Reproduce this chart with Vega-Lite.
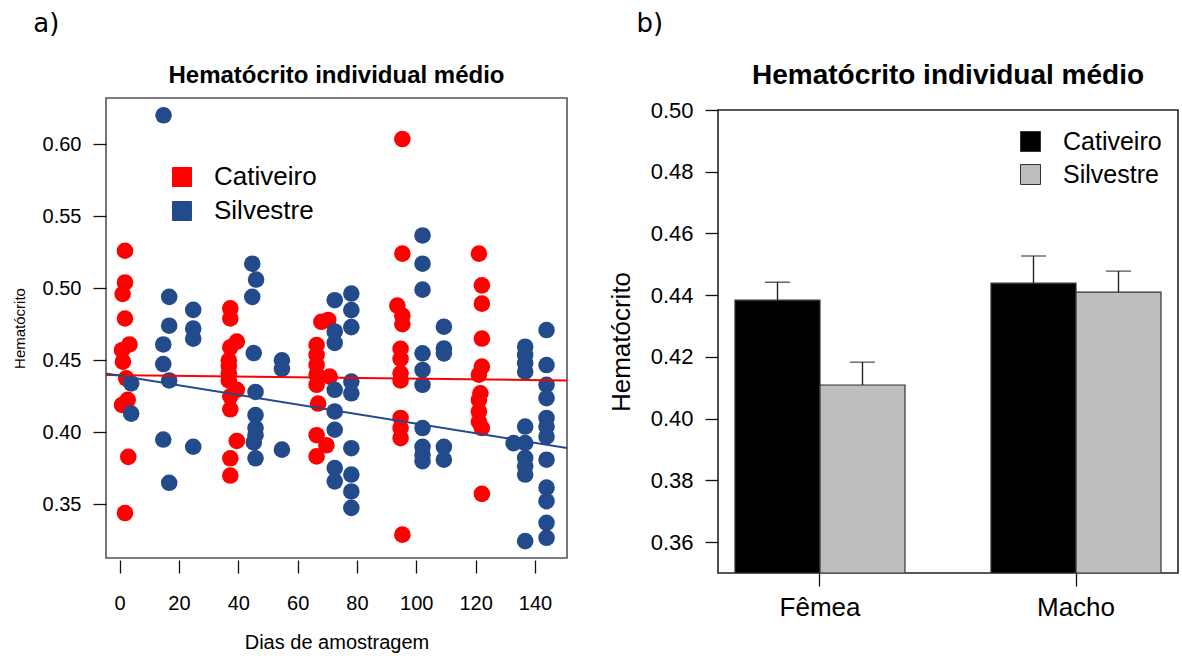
{
  "$schema": "https://vega.github.io/schema/vega-lite/v6.json",
  "background": "white",
  "padding": {"left": 11, "top": 11, "right": 0, "bottom": 0},
  "config": {
    "font": "Liberation Sans",
    "axis": {"grid": false, "labelColor": "#000", "titleColor": "#000", "tickColor": "#111", "tickWidth": 1.3, "domain": false, "titleFontWeight": "normal"},
    "legend": {"labelColor": "#000"},
    "title": {"color": "#000"}
  },
  "resolve": {"scale": {"color": "independent", "stroke": "independent"}, "legend": {"color": "independent"}},
  "datasets": {
    "vazio": [{"n": 0}],
    "amostras": [
      {"grupo": "Cativeiro", "dia": 1.8, "hct": 0.526},
      {"grupo": "Cativeiro", "dia": 1.8, "hct": 0.504},
      {"grupo": "Cativeiro", "dia": 1.0, "hct": 0.496},
      {"grupo": "Cativeiro", "dia": 1.8, "hct": 0.479},
      {"grupo": "Cativeiro", "dia": 3.3, "hct": 0.461},
      {"grupo": "Cativeiro", "dia": 0.8, "hct": 0.457},
      {"grupo": "Cativeiro", "dia": 1.1, "hct": 0.449},
      {"grupo": "Cativeiro", "dia": 2.2, "hct": 0.4375},
      {"grupo": "Cativeiro", "dia": 2.7, "hct": 0.4225},
      {"grupo": "Cativeiro", "dia": 0.8, "hct": 0.419},
      {"grupo": "Cativeiro", "dia": 2.9, "hct": 0.383},
      {"grupo": "Cativeiro", "dia": 1.8, "hct": 0.344},
      {"grupo": "Cativeiro", "dia": 37.3, "hct": 0.486},
      {"grupo": "Cativeiro", "dia": 37.3, "hct": 0.479},
      {"grupo": "Cativeiro", "dia": 39.5, "hct": 0.463},
      {"grupo": "Cativeiro", "dia": 37.3, "hct": 0.459},
      {"grupo": "Cativeiro", "dia": 36.8, "hct": 0.45},
      {"grupo": "Cativeiro", "dia": 36.8, "hct": 0.446},
      {"grupo": "Cativeiro", "dia": 36.8, "hct": 0.441},
      {"grupo": "Cativeiro", "dia": 36.8, "hct": 0.436},
      {"grupo": "Cativeiro", "dia": 39.5, "hct": 0.4295},
      {"grupo": "Cativeiro", "dia": 37.3, "hct": 0.425},
      {"grupo": "Cativeiro", "dia": 37.3, "hct": 0.416},
      {"grupo": "Cativeiro", "dia": 39.5, "hct": 0.394},
      {"grupo": "Cativeiro", "dia": 37.3, "hct": 0.382},
      {"grupo": "Cativeiro", "dia": 37.3, "hct": 0.37},
      {"grupo": "Cativeiro", "dia": 68.0, "hct": 0.4767},
      {"grupo": "Cativeiro", "dia": 70.3, "hct": 0.478},
      {"grupo": "Cativeiro", "dia": 66.4, "hct": 0.4606},
      {"grupo": "Cativeiro", "dia": 66.4, "hct": 0.4537},
      {"grupo": "Cativeiro", "dia": 66.4, "hct": 0.4468},
      {"grupo": "Cativeiro", "dia": 66.4, "hct": 0.44},
      {"grupo": "Cativeiro", "dia": 66.4, "hct": 0.433},
      {"grupo": "Cativeiro", "dia": 70.8, "hct": 0.4387},
      {"grupo": "Cativeiro", "dia": 66.9, "hct": 0.42},
      {"grupo": "Cativeiro", "dia": 66.4, "hct": 0.398},
      {"grupo": "Cativeiro", "dia": 69.7, "hct": 0.391},
      {"grupo": "Cativeiro", "dia": 66.4, "hct": 0.3833},
      {"grupo": "Cativeiro", "dia": 95.3, "hct": 0.6035},
      {"grupo": "Cativeiro", "dia": 95.3, "hct": 0.524},
      {"grupo": "Cativeiro", "dia": 93.6, "hct": 0.488},
      {"grupo": "Cativeiro", "dia": 95.3, "hct": 0.481},
      {"grupo": "Cativeiro", "dia": 95.3, "hct": 0.475},
      {"grupo": "Cativeiro", "dia": 94.7, "hct": 0.458},
      {"grupo": "Cativeiro", "dia": 94.7, "hct": 0.451},
      {"grupo": "Cativeiro", "dia": 94.7, "hct": 0.441},
      {"grupo": "Cativeiro", "dia": 94.7, "hct": 0.436},
      {"grupo": "Cativeiro", "dia": 94.7, "hct": 0.41},
      {"grupo": "Cativeiro", "dia": 94.7, "hct": 0.403},
      {"grupo": "Cativeiro", "dia": 94.7, "hct": 0.396},
      {"grupo": "Cativeiro", "dia": 95.3, "hct": 0.329},
      {"grupo": "Cativeiro", "dia": 121.1, "hct": 0.524},
      {"grupo": "Cativeiro", "dia": 122.1, "hct": 0.502},
      {"grupo": "Cativeiro", "dia": 122.1, "hct": 0.4893},
      {"grupo": "Cativeiro", "dia": 122.1, "hct": 0.4651},
      {"grupo": "Cativeiro", "dia": 122.1, "hct": 0.4456},
      {"grupo": "Cativeiro", "dia": 121.1, "hct": 0.44},
      {"grupo": "Cativeiro", "dia": 121.6, "hct": 0.4271},
      {"grupo": "Cativeiro", "dia": 121.1, "hct": 0.4225},
      {"grupo": "Cativeiro", "dia": 121.1, "hct": 0.4145},
      {"grupo": "Cativeiro", "dia": 121.1, "hct": 0.4075},
      {"grupo": "Cativeiro", "dia": 122.1, "hct": 0.403},
      {"grupo": "Cativeiro", "dia": 122.1, "hct": 0.3573},
      {"grupo": "Silvestre", "dia": 3.9, "hct": 0.434},
      {"grupo": "Silvestre", "dia": 3.9, "hct": 0.413},
      {"grupo": "Silvestre", "dia": 14.8, "hct": 0.62},
      {"grupo": "Silvestre", "dia": 14.7, "hct": 0.461},
      {"grupo": "Silvestre", "dia": 14.7, "hct": 0.4474},
      {"grupo": "Silvestre", "dia": 14.7, "hct": 0.395},
      {"grupo": "Silvestre", "dia": 16.7, "hct": 0.494},
      {"grupo": "Silvestre", "dia": 16.7, "hct": 0.474},
      {"grupo": "Silvestre", "dia": 16.7, "hct": 0.436},
      {"grupo": "Silvestre", "dia": 16.7, "hct": 0.365},
      {"grupo": "Silvestre", "dia": 24.8, "hct": 0.485},
      {"grupo": "Silvestre", "dia": 24.8, "hct": 0.472},
      {"grupo": "Silvestre", "dia": 24.8, "hct": 0.465},
      {"grupo": "Silvestre", "dia": 24.8, "hct": 0.39},
      {"grupo": "Silvestre", "dia": 44.7, "hct": 0.517},
      {"grupo": "Silvestre", "dia": 46.0, "hct": 0.506},
      {"grupo": "Silvestre", "dia": 44.7, "hct": 0.494},
      {"grupo": "Silvestre", "dia": 45.2, "hct": 0.455},
      {"grupo": "Silvestre", "dia": 45.8, "hct": 0.428},
      {"grupo": "Silvestre", "dia": 45.8, "hct": 0.412},
      {"grupo": "Silvestre", "dia": 45.8, "hct": 0.403},
      {"grupo": "Silvestre", "dia": 45.8, "hct": 0.398},
      {"grupo": "Silvestre", "dia": 45.2, "hct": 0.393},
      {"grupo": "Silvestre", "dia": 45.8, "hct": 0.382},
      {"grupo": "Silvestre", "dia": 54.7, "hct": 0.45},
      {"grupo": "Silvestre", "dia": 54.7, "hct": 0.444},
      {"grupo": "Silvestre", "dia": 54.7, "hct": 0.388},
      {"grupo": "Silvestre", "dia": 72.5, "hct": 0.4917},
      {"grupo": "Silvestre", "dia": 72.5, "hct": 0.47},
      {"grupo": "Silvestre", "dia": 72.5, "hct": 0.462},
      {"grupo": "Silvestre", "dia": 72.5, "hct": 0.4295},
      {"grupo": "Silvestre", "dia": 72.5, "hct": 0.4145},
      {"grupo": "Silvestre", "dia": 72.5, "hct": 0.4018},
      {"grupo": "Silvestre", "dia": 72.5, "hct": 0.3752},
      {"grupo": "Silvestre", "dia": 72.5, "hct": 0.366},
      {"grupo": "Silvestre", "dia": 78.1, "hct": 0.4963},
      {"grupo": "Silvestre", "dia": 78.1, "hct": 0.4848},
      {"grupo": "Silvestre", "dia": 78.1, "hct": 0.473},
      {"grupo": "Silvestre", "dia": 78.1, "hct": 0.4352},
      {"grupo": "Silvestre", "dia": 78.1, "hct": 0.4271},
      {"grupo": "Silvestre", "dia": 78.1, "hct": 0.389},
      {"grupo": "Silvestre", "dia": 78.1, "hct": 0.3707},
      {"grupo": "Silvestre", "dia": 78.1, "hct": 0.359},
      {"grupo": "Silvestre", "dia": 78.1, "hct": 0.3476},
      {"grupo": "Silvestre", "dia": 102.1, "hct": 0.5366},
      {"grupo": "Silvestre", "dia": 102.1, "hct": 0.517},
      {"grupo": "Silvestre", "dia": 102.1, "hct": 0.499},
      {"grupo": "Silvestre", "dia": 102.1, "hct": 0.4548},
      {"grupo": "Silvestre", "dia": 102.1, "hct": 0.4433},
      {"grupo": "Silvestre", "dia": 102.1, "hct": 0.433},
      {"grupo": "Silvestre", "dia": 102.1, "hct": 0.403},
      {"grupo": "Silvestre", "dia": 102.1, "hct": 0.39},
      {"grupo": "Silvestre", "dia": 102.1, "hct": 0.3845},
      {"grupo": "Silvestre", "dia": 102.1, "hct": 0.38},
      {"grupo": "Silvestre", "dia": 109.3, "hct": 0.4733},
      {"grupo": "Silvestre", "dia": 109.3, "hct": 0.4582},
      {"grupo": "Silvestre", "dia": 109.3, "hct": 0.4548},
      {"grupo": "Silvestre", "dia": 109.3, "hct": 0.39},
      {"grupo": "Silvestre", "dia": 109.3, "hct": 0.381},
      {"grupo": "Silvestre", "dia": 132.8, "hct": 0.3925},
      {"grupo": "Silvestre", "dia": 136.7, "hct": 0.4594},
      {"grupo": "Silvestre", "dia": 136.7, "hct": 0.4537},
      {"grupo": "Silvestre", "dia": 136.7, "hct": 0.448},
      {"grupo": "Silvestre", "dia": 136.7, "hct": 0.4421},
      {"grupo": "Silvestre", "dia": 136.7, "hct": 0.404},
      {"grupo": "Silvestre", "dia": 136.7, "hct": 0.3925},
      {"grupo": "Silvestre", "dia": 136.7, "hct": 0.3822},
      {"grupo": "Silvestre", "dia": 136.7, "hct": 0.3764},
      {"grupo": "Silvestre", "dia": 136.7, "hct": 0.3707},
      {"grupo": "Silvestre", "dia": 136.7, "hct": 0.3245},
      {"grupo": "Silvestre", "dia": 143.9, "hct": 0.471},
      {"grupo": "Silvestre", "dia": 143.9, "hct": 0.4467},
      {"grupo": "Silvestre", "dia": 143.9, "hct": 0.433},
      {"grupo": "Silvestre", "dia": 143.9, "hct": 0.4237},
      {"grupo": "Silvestre", "dia": 143.9, "hct": 0.41},
      {"grupo": "Silvestre", "dia": 143.9, "hct": 0.404},
      {"grupo": "Silvestre", "dia": 143.9, "hct": 0.397},
      {"grupo": "Silvestre", "dia": 143.9, "hct": 0.381},
      {"grupo": "Silvestre", "dia": 143.9, "hct": 0.3617},
      {"grupo": "Silvestre", "dia": 143.9, "hct": 0.3522},
      {"grupo": "Silvestre", "dia": 143.9, "hct": 0.3372},
      {"grupo": "Silvestre", "dia": 143.9, "hct": 0.3268}
    ],
    "ajustes": [
      {"grupo": "Cativeiro", "dia": -4.6, "hct": 0.4397},
      {"grupo": "Cativeiro", "dia": 150.8, "hct": 0.4360},
      {"grupo": "Silvestre", "dia": -4.6, "hct": 0.4408},
      {"grupo": "Silvestre", "dia": 150.8, "hct": 0.3891}
    ],
    "medias": [
      {"sexo": "Fêmea", "grupo": "Cativeiro", "hct": 0.4384, "hct_sup": 0.4442},
      {"sexo": "Fêmea", "grupo": "Silvestre", "hct": 0.4109, "hct_sup": 0.4183},
      {"sexo": "Macho", "grupo": "Cativeiro", "hct": 0.4439, "hct_sup": 0.4527},
      {"sexo": "Macho", "grupo": "Silvestre", "hct": 0.441, "hct_sup": 0.4478}
    ]
  },
  "spacing": 39,
  "hconcat": [
    {
      "title": {"text": "a)", "anchor": "start", "frame": "bounds", "font": "DejaVu Sans", "fontSize": 26, "fontWeight": "normal", "offset": 5, "dx": 22},
      "spacing": 20,
      "vconcat": [
        {
          "width": 1,
          "height": 1,
          "view": {"stroke": null},
          "data": {"name": "vazio"},
          "mark": {"type": "point", "size": 0, "opacity": 0},
          "encoding": {}
        },
        {
          "width": 461,
          "height": 460,
          "view": {"stroke": "#555", "strokeWidth": 1.6},
          "title": {"text": "Hematócrito individual médio", "fontSize": 24, "fontWeight": "bold", "anchor": "middle", "frame": "group", "offset": 10},
          "layer": [
            {
              "data": {"name": "amostras"},
              "mark": {"type": "point", "shape": "circle", "filled": true, "opacity": 1, "size": 275, "clip": true},
              "encoding": {
                "x": {
                  "field": "dia", "type": "quantitative",
                  "scale": {"domain": [-4.6, 150.8], "nice": false, "zero": false},
                  "axis": {"values": [0, 20, 40, 60, 80, 100, 120, 140], "format": "d", "tickSize": 13, "offset": 2, "labelFontSize": 20, "labelPadding": 20, "title": "Dias de amostragem", "titleFontSize": 20, "titlePadding": 19}
                },
                "y": {
                  "field": "hct", "type": "quantitative",
                  "scale": {"domain": [0.3128, 0.632], "nice": false, "zero": false},
                  "axis": {"values": [0.35, 0.4, 0.45, 0.5, 0.55, 0.6], "format": ".2f", "tickSize": 13, "labelFontSize": 20, "labelPadding": 12, "title": "Hematócrito", "titleFontSize": 15, "titlePadding": 15}
                },
                "color": {
                  "field": "grupo", "type": "nominal",
                  "scale": {"domain": ["Cativeiro", "Silvestre"], "range": ["#FF0000", "#234B8C"]},
                  "legend": {"title": null, "orient": "none", "legendX": 63, "legendY": 122, "symbolType": "square", "symbolSize": 361, "symbolStrokeColor": "#111", "symbolStrokeWidth": 1, "symbolOpacity": 1, "labelFontSize": 26, "labelOffset": 19, "rowPadding": 8}
                },
                "order": {"field": "grupo", "sort": "ascending"}
              }
            },
            {
              "data": {"name": "ajustes"},
              "mark": {"type": "line", "strokeWidth": 2, "clip": true},
              "encoding": {
                "x": {"field": "dia", "type": "quantitative"},
                "y": {"field": "hct", "type": "quantitative"},
                "detail": {"field": "grupo"},
                "stroke": {
                  "field": "grupo", "type": "nominal",
                  "scale": {"domain": ["Cativeiro", "Silvestre"], "range": ["#FF0000", "#234B8C"]},
                  "legend": null
                }
              }
            }
          ]
        }
      ]
    },
    {
      "title": {"text": "b)", "anchor": "start", "frame": "bounds", "font": "DejaVu Sans", "fontSize": 26, "fontWeight": "normal", "offset": 5, "dx": 29},
      "spacing": 18,
      "vconcat": [
        {
          "width": 1,
          "height": 1,
          "view": {"stroke": null},
          "data": {"name": "vazio"},
          "mark": {"type": "point", "size": 0, "opacity": 0},
          "encoding": {}
        },
        {
          "width": 460,
          "height": 463,
          "view": {"stroke": "#222", "strokeWidth": 1.6},
          "title": {"text": "Hematócrito individual médio", "fontSize": 28, "fontWeight": "bold", "anchor": "middle", "frame": "group", "offset": 9},
          "data": {"name": "medias"},
          "encoding": {
            "x": {
              "field": "sexo", "type": "nominal", "sort": ["Fêmea", "Macho"],
              "scale": {"paddingInner": 0.336, "paddingOuter": 0.0664},
              "axis": {"title": null, "labelAngle": 0, "labelFontSize": 26, "tickSize": 13, "labelPadding": 8}
            },
            "xOffset": {"field": "grupo", "type": "nominal", "sort": ["Cativeiro", "Silvestre"], "scale": {"paddingInner": 0, "paddingOuter": 0}}
          },
          "layer": [
            {
              "mark": {"type": "bar", "stroke": "#333", "strokeWidth": 1.2, "clip": true},
              "encoding": {
                "y": {
                  "field": "hct", "type": "quantitative",
                  "scale": {"domain": [0.35, 0.5], "nice": false, "zero": false},
                  "axis": {"values": [0.36, 0.38, 0.4, 0.42, 0.44, 0.46, 0.48, 0.5], "format": ".2f", "tickSize": 13, "labelFontSize": 22, "labelPadding": 12, "title": "Hematócrito", "titleFontSize": 26, "titlePadding": 16}
                },
                "y2": {"datum": 0.35},
                "color": {
                  "field": "grupo", "type": "nominal",
                  "scale": {"domain": ["Cativeiro", "Silvestre"], "range": ["#000000", "#BEBEBE"]},
                  "legend": {"title": null, "orient": "none", "legendX": 300, "legendY": 87, "symbolType": "square", "symbolSize": 400, "symbolStrokeColor": "#333", "symbolStrokeWidth": 1, "symbolOpacity": 1, "labelFontSize": 25, "labelOffset": 20, "rowPadding": 7}
                }
              }
            },
            {
              "mark": {"type": "rule", "color": "#222", "strokeWidth": 1.4},
              "encoding": {
                "y": {"field": "hct", "type": "quantitative"},
                "y2": {"field": "hct_sup"}
              }
            },
            {
              "mark": {"type": "tick", "color": "#222", "thickness": 1.4, "size": 25, "orient": "horizontal"},
              "encoding": {
                "y": {"field": "hct_sup", "type": "quantitative"}
              }
            }
          ]
        }
      ]
    }
  ]
}
